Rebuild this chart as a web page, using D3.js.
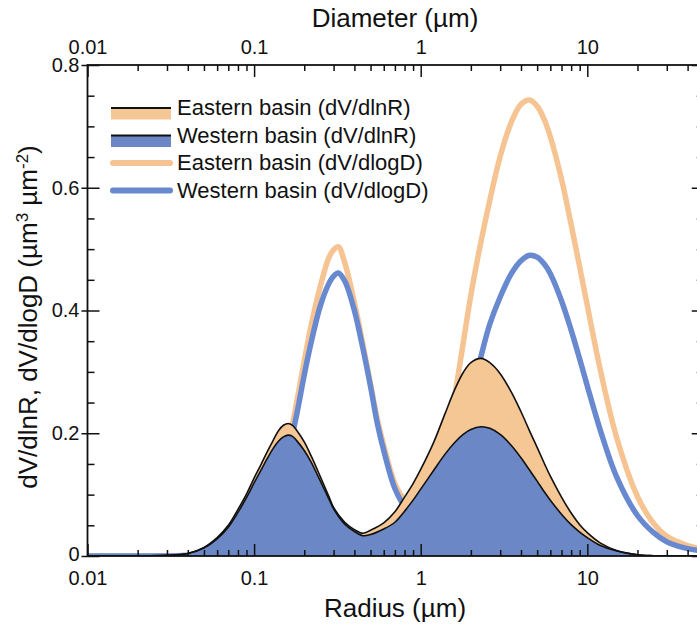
<!DOCTYPE html>
<html>
<head>
<meta charset="utf-8">
<script src="https://cdn.jsdelivr.net/npm/d3@7"></script>
<style>
  html, body { margin: 0; padding: 0; background: #fff; }
  svg { display: block; font-family: "Liberation Sans", Arial, sans-serif; }
</style>
</head>
<body>
<svg id="chart" width="697" height="629"></svg>
<script>
// ---- Size distributions (volume, µm³ µm⁻²) ----
// dV/dlnR series are given against particle radius (µm)
const radius = [0.01, 0.02, 0.03, 0.04, 0.05, 0.06, 0.07, 0.08, 0.09, 0.10,
  0.11, 0.12, 0.13, 0.14, 0.15, 0.16, 0.17, 0.18, 0.20, 0.22, 0.25, 0.28, 0.30,
  0.35, 0.40, 0.45, 0.50, 0.60, 0.70, 0.80, 0.90, 1.0, 1.2, 1.4, 1.6, 1.8, 2.0,
  2.3, 2.6, 3.0, 3.5, 4.0, 4.5, 5.0, 5.5, 6.0, 7.0, 8.0, 9.0, 10, 12, 15, 20,
  25, 30, 40, 50];
const eastLnR = [0, 0, 0.001, 0.004, 0.014, 0.030, 0.050, 0.076, 0.101, 0.127,
  0.149, 0.170, 0.188, 0.204, 0.213, 0.216, 0.213, 0.205, 0.186, 0.163, 0.129,
  0.098, 0.079, 0.055, 0.043, 0.037, 0.042, 0.054, 0.072, 0.096, 0.118, 0.141,
  0.186, 0.232, 0.271, 0.299, 0.315, 0.322, 0.315, 0.297, 0.267, 0.235, 0.204,
  0.177, 0.152, 0.130, 0.096, 0.070, 0.051, 0.038, 0.021, 0.009, 0.002, 0.0005,
  0, 0, 0];
const westLnR = [0, 0, 0.001, 0.004, 0.013, 0.028, 0.047, 0.071, 0.095, 0.119,
  0.140, 0.159, 0.175, 0.187, 0.194, 0.197, 0.195, 0.188, 0.172, 0.153, 0.122,
  0.094, 0.077, 0.052, 0.040, 0.033, 0.035, 0.044, 0.055, 0.073, 0.091, 0.109,
  0.140, 0.166, 0.185, 0.198, 0.206, 0.2105, 0.208, 0.198, 0.180, 0.160, 0.140,
  0.122, 0.105, 0.091, 0.068, 0.051, 0.039, 0.030, 0.017, 0.008, 0.002, 0.0005,
  0, 0, 0];

// dV/dlogD series are given against particle diameter (µm)
const diameter = [0.01, 0.02, 0.03, 0.04, 0.05, 0.06, 0.07, 0.08, 0.09, 0.10,
  0.12, 0.14, 0.16, 0.18, 0.20, 0.22, 0.25, 0.28, 0.30, 0.32, 0.35, 0.40, 0.45,
  0.50, 0.55, 0.60, 0.70, 0.80, 0.90, 1.0, 1.2, 1.4, 1.6, 1.8, 2.0, 2.3, 2.6,
  3.0, 3.5, 4.0, 4.5, 5.0, 5.5, 6.0, 7.0, 8.0, 9.0, 10, 12, 15, 20, 25, 30, 35,
  40, 50];
const eastLogD = [0, 0, 0, 0.001, 0.002, 0.004, 0.008, 0.014, 0.024, 0.034,
  0.068, 0.115, 0.180, 0.250, 0.318, 0.376, 0.440, 0.485, 0.499, 0.504, 0.478,
  0.413, 0.345, 0.280, 0.222, 0.180, 0.118, 0.092, 0.085, 0.088, 0.112, 0.163,
  0.260, 0.347, 0.425, 0.512, 0.580, 0.651, 0.707, 0.736, 0.743, 0.733, 0.712,
  0.683, 0.614, 0.540, 0.471, 0.408, 0.302, 0.193, 0.097, 0.053, 0.032, 0.023,
  0.017, 0.010];
const westLogD = [0, 0, 0, 0.001, 0.002, 0.004, 0.007, 0.013, 0.022, 0.032,
  0.063, 0.108, 0.168, 0.230, 0.295, 0.348, 0.408, 0.443, 0.456, 0.461, 0.448,
  0.400, 0.338, 0.276, 0.215, 0.172, 0.110, 0.082, 0.075, 0.078, 0.092, 0.118,
  0.150, 0.200, 0.255, 0.325, 0.378, 0.422, 0.460, 0.481, 0.490, 0.487, 0.476,
  0.460, 0.416, 0.368, 0.321, 0.277, 0.204, 0.129, 0.066, 0.038, 0.023, 0.016,
  0.012, 0.008];

// ---- Axis ticks ----
const xMajorTicks = [0.01, 0.1, 1, 10];
const xMinorTicks = [0.02, 0.03, 0.04, 0.05, 0.06, 0.07, 0.08, 0.09,
  0.2, 0.3, 0.4, 0.5, 0.6, 0.7, 0.8, 0.9,
  2, 3, 4, 5, 6, 7, 8, 9, 20, 30, 40];
const yMajorTicks = [0, 0.2, 0.4, 0.6, 0.8];
const yMinorTicks = [0.05, 0.1, 0.15, 0.25, 0.3, 0.35, 0.45, 0.5, 0.55, 0.65, 0.7, 0.75];

const legendLabels = ["Eastern basin (dV/dlnR)", "Western basin (dV/dlnR)",
  "Eastern basin (dV/dlogD)", "Western basin (dV/dlogD)"];
const legendKinds = ["area", "area", "line", "line"];

// ---- Styling ----
const ORANGE_FILL = "#f5c795";
const ORANGE_LINE = "#f6c492";
const BLUE_FILL = "#6b87c5";
const BLUE_LINE = "#6889d0";
const legendColors = [ORANGE_FILL, BLUE_FILL, ORANGE_LINE, BLUE_LINE];

const svg = d3.select("#chart");
const plotLeft = 87.5, plotTop = 65, plotBottom = 556;

const x = d3.scaleLog().domain([0.01, 50]).range([plotLeft, plotLeft + 166.6 * Math.log10(5000)]);
const y = d3.scaleLinear().domain([0, 0.8]).range([plotBottom, plotTop]);
const plotRight = x.range()[1];

svg.append("defs").append("clipPath").attr("id", "plotClip")
  .append("rect")
  .attr("x", plotLeft).attr("y", plotTop)
  .attr("width", plotRight - plotLeft).attr("height", plotBottom - plotTop);

const plot = svg.append("g").attr("clip-path", "url(#plotClip)");

const pairs = (xs, ys) => xs.map((v, i) => [v, ys[i]]);
const smooth = d3.curveCatmullRom.alpha(0.5);
const line = d3.line().x(d => x(d[0])).y(d => y(d[1])).curve(smooth);
const area = d3.area().x(d => x(d[0])).y0(y(0)).y1(d => y(d[1])).curve(smooth);

// dV/dlogD curves (thick lines, behind the filled dV/dlnR curves)
plot.append("path").datum(pairs(diameter, eastLogD))
  .attr("d", line).attr("fill", "none")
  .attr("stroke", ORANGE_LINE).attr("stroke-width", 5.5)
  .attr("stroke-linejoin", "round");
plot.append("path").datum(pairs(diameter, westLogD))
  .attr("d", line).attr("fill", "none")
  .attr("stroke", BLUE_LINE).attr("stroke-width", 5.5)
  .attr("stroke-linejoin", "round");

// dV/dlnR filled curves
const eastData = pairs(radius, eastLnR);
const westData = pairs(radius, westLnR);
plot.append("path").datum(eastData).attr("d", area).attr("fill", ORANGE_FILL);
plot.append("path").datum(westData).attr("d", area).attr("fill", BLUE_FILL);
plot.append("path").datum(eastData).attr("d", line)
  .attr("fill", "none").attr("stroke", "#111").attr("stroke-width", 1.6);
plot.append("path").datum(westData).attr("d", line)
  .attr("fill", "none").attr("stroke", "#111").attr("stroke-width", 1.6);

// ---- Axes ----
function styleAxis(g) {
  g.select(".domain").remove();
  g.selectAll("line").attr("stroke", "#111").attr("stroke-width", 1.5);
  g.selectAll("text").attr("fill", "#111").attr("font-size", 20)
    .attr("font-family", "'Liberation Sans', Arial, sans-serif");
}
const fmtX = d => (d < 1 ? d3.format("~g")(d) : String(d));

// bottom: radius
svg.append("g").attr("transform", `translate(0,${plotBottom})`)
  .call(d3.axisBottom(x).tickValues(xMajorTicks).tickSize(-12).tickPadding(15).tickFormat(fmtX))
  .call(styleAxis);
svg.append("g").attr("transform", `translate(0,${plotBottom})`)
  .call(d3.axisBottom(x).tickValues(xMinorTicks).tickSize(-6).tickFormat(""))
  .call(styleAxis);

// top: diameter
svg.append("g").attr("transform", `translate(0,${plotTop})`)
  .call(d3.axisTop(x).tickValues(xMajorTicks).tickSize(-12).tickPadding(11).tickFormat(fmtX))
  .call(styleAxis);
svg.append("g").attr("transform", `translate(0,${plotTop})`)
  .call(d3.axisTop(x).tickValues(xMinorTicks).tickSize(-6).tickFormat(""))
  .call(styleAxis);

// left: major ticks cross the axis line, minor ticks point inward
const leftLabels = svg.append("g").attr("transform", `translate(${plotLeft},0)`)
  .call(d3.axisLeft(y).tickValues(yMajorTicks).tickSize(6).tickPadding(2)
    .tickFormat(d => d3.format("~g")(d)))
  .call(styleAxis);
// the zero label sits a touch higher so it clears the radius labels below
leftLabels.selectAll(".tick").filter(d => d === 0).select("text").attr("dy", "0.22em");
svg.append("g").attr("transform", `translate(${plotLeft},0)`)
  .call(d3.axisLeft(y).tickValues(yMajorTicks).tickSize(-12).tickFormat(""))
  .call(styleAxis);
svg.append("g").attr("transform", `translate(${plotLeft},0)`)
  .call(d3.axisLeft(y).tickValues(yMinorTicks).tickSize(-7).tickFormat(""))
  .call(styleAxis);

// right: inward ticks only
svg.append("g").attr("transform", `translate(${plotRight},0)`)
  .call(d3.axisRight(y).tickValues(yMajorTicks).tickSize(-12).tickFormat(""))
  .call(styleAxis);
svg.append("g").attr("transform", `translate(${plotRight},0)`)
  .call(d3.axisRight(y).tickValues(yMinorTicks).tickSize(-7).tickFormat(""))
  .call(styleAxis);

// frame
svg.append("rect")
  .attr("x", plotLeft).attr("y", plotTop)
  .attr("width", plotRight - plotLeft).attr("height", plotBottom - plotTop)
  .attr("fill", "none").attr("stroke", "#111").attr("stroke-width", 1.8);

// ---- Axis titles ----
svg.append("text").attr("x", 395).attr("y", 27)
  .attr("text-anchor", "middle").attr("font-size", 26).attr("fill", "#111")
  .text("Diameter (µm)");
svg.append("text").attr("x", 395).attr("y", 617)
  .attr("text-anchor", "middle").attr("font-size", 26).attr("fill", "#111")
  .text("Radius (µm)");

const yTitle = svg.append("text")
  .attr("transform", "translate(37,317) rotate(-90)")
  .attr("text-anchor", "middle").attr("font-size", 26).attr("fill", "#111");
yTitle.append("tspan").text("dV/dlnR, dV/dlogD (µm");
yTitle.append("tspan").attr("dy", -9).attr("font-size", 17).text("3");
yTitle.append("tspan").attr("dy", 9).text(" µm");
yTitle.append("tspan").attr("dy", -9).attr("font-size", 17).text("-2");
yTitle.append("tspan").attr("dy", 9).text(")");

// ---- Legend ----
const legend = svg.append("g");
legendLabels.forEach((label, i) => {
  const ry = 108 + i * 27.5;
  const row = legend.append("g");
  if (legendKinds[i] === "area") {
    row.append("rect").attr("x", 111).attr("y", ry + 0.5)
      .attr("width", 60).attr("height", 11).attr("fill", legendColors[i]);
    row.append("line").attr("x1", 111).attr("x2", 171)
      .attr("y1", ry).attr("y2", ry)
      .attr("stroke", "#111").attr("stroke-width", 1.8);
  } else {
    row.append("line").attr("x1", 113).attr("x2", 170)
      .attr("y1", ry).attr("y2", ry)
      .attr("stroke", legendColors[i]).attr("stroke-width", 6)
      .attr("stroke-linecap", "round");
  }
  row.append("text").attr("x", 177).attr("y", ry).attr("dy", "0.33em")
    .attr("font-size", 22).attr("fill", "#111").text(label);
});
</script>
</body>
</html>
